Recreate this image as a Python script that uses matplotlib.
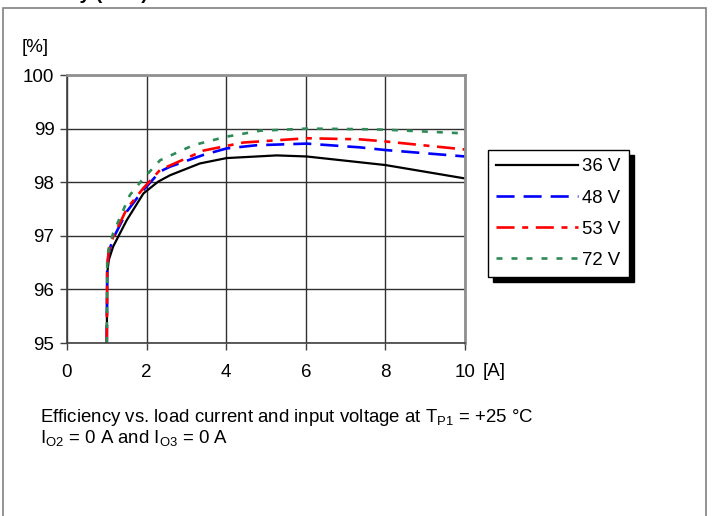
import matplotlib
matplotlib.use("Agg")
import matplotlib.pyplot as plt
from matplotlib.patches import Rectangle

plt.rcParams['font.family'] = ['Liberation Sans', 'DejaVu Sans']
plt.rcParams['mathtext.default'] = 'regular'
plt.rcParams['lines.scale_dashes'] = False

# efficiency curves (load current [A], efficiency [%])
x_36 = [1.0, 1.01, 1.05, 1.16, 1.5, 1.92, 2.29, 2.59, 3.34, 4.01, 5.27, 6.02, 8.0, 10.0]
y_36 = [95.0, 96.3, 96.55, 96.8, 97.29, 97.79, 98.01, 98.13, 98.35, 98.45, 98.5, 98.48, 98.32, 98.07]

x_48 = [1.0, 1.01, 1.05, 1.16, 1.5, 1.88, 2.34, 2.59, 3.43, 4.01, 4.77, 6.02, 7.36, 8.0, 10.0]
y_48 = [95.0, 96.4, 96.7, 96.95, 97.45, 97.82, 98.2, 98.29, 98.51, 98.63, 98.69, 98.72, 98.65, 98.6, 98.48]

x_53 = [1.0, 1.01, 1.05, 1.16, 1.5, 1.92, 2.34, 3.43, 4.43, 6.02, 7.36, 8.0, 10.0]
y_53 = [95.0, 96.45, 96.72, 96.98, 97.5, 97.89, 98.23, 98.59, 98.74, 98.82, 98.8, 98.76, 98.61]

x_72 = [1.0, 1.01, 1.04, 1.16, 1.58, 1.92, 2.34, 3.17, 4.01, 4.85, 6.02, 7.36, 8.0, 10.0]
y_72 = [95.0, 96.5, 96.74, 97.05, 97.76, 98.07, 98.41, 98.69, 98.85, 98.96, 99.0, 98.99, 98.98, 98.91]

labels = ['36 V', '48 V', '53 V', '72 V']
x_ticks = [0, 2, 4, 6, 8, 10]
y_ticks = [95, 96, 97, 98, 99, 100]

fig = plt.figure(figsize=(7.12, 5.16), dpi=100)
ax = fig.add_axes([67/712, 1 - 343/516, 398/712, 268/516])

ax.plot(x_36, y_36, color='black', lw=1.6, label=labels[0])
ax.plot(x_48, y_48, color='#0000ff', lw=1.9, dashes=(13, 6.5), label=labels[1])
ax.plot(x_53, y_53, color='#ff0000', lw=1.9, dashes=(13, 5.5, 4.3, 5.5), label=labels[2])
ax.plot(x_72, y_72, color='#2e8b57', lw=1.9, dashes=(4.3, 6.5), label=labels[3])

ax.set_xlim(0, 10)
ax.set_ylim(95, 100)
ax.set_xticks(x_ticks)
ax.set_yticks(y_ticks)
ax.tick_params(labelsize=13.5, length=5, width=1, color='#404040', pad=4)
ax.tick_params(axis='x', pad=10)
ax.grid(True, color='#303030', lw=1)
ax.set_axisbelow(True)
for side in ['left', 'bottom']:
    ax.spines[side].set_color('#404040')
    ax.spines[side].set_linewidth(1.2)
for side in ['top', 'right']:
    ax.spines[side].set_color('#909090')
    ax.spines[side].set_linewidth(2)

fig.text(22/712, 1 - 48/516, '[%]', fontsize=13.5, va='center', ha='left')
fig.text(483/712, 1 - 372/516, '[A]', fontsize=13.5, va='center', ha='left')

fig.text(40/712, 1 - 418/516,
         'Efficiency vs. load current and input voltage at T$_{P1}$ = +25 °C',
         fontsize=13.4, va='center', ha='left')
fig.text(40/712, 1 - 438/516, 'I$_{O2}$ = 0 A and I$_{O3}$ = 0 A',
         fontsize=13.4, va='center', ha='left')

# clipped title at very top
fig.text(-2/712, 1 + 1/516, 'Efficiency (VO1)', fontsize=14, fontweight='bold',
         va='baseline', ha='left')

leg = ax.legend(loc='upper left', bbox_to_anchor=(488/712, 1 - 150/516),
                bbox_transform=fig.transFigure, fontsize=13.4, frameon=True,
                fancybox=False, edgecolor='black', framealpha=1,
                handlelength=4.4, handletextpad=0.2, labelspacing=0.76,
                borderpad=0.45, borderaxespad=0,
                shadow={'ox': 3.6, 'oy': -3.6, 'color': 'black', 'alpha': 1})
leg.get_frame().set_linewidth(1)

# gray frame around the whole figure (bottom edge is cut off)
fig.patches.append(Rectangle((2.5/712, -0.05), 703/712, 1.05 - 8/516,
                             transform=fig.transFigure, fill=False,
                             edgecolor='#808080', lw=1.2, clip_on=False))

fig.savefig('out.png', dpi=100)
